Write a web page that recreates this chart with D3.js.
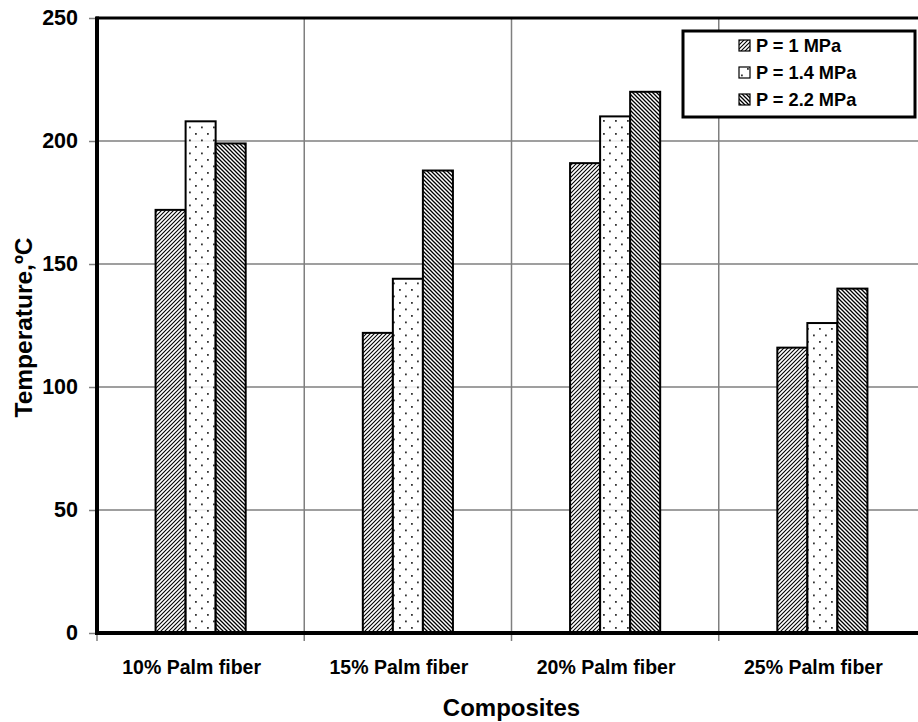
<!DOCTYPE html>
<html>
<head>
<meta charset="utf-8">
<script src="https://cdn.jsdelivr.net/npm/d3@7"></script>
<style>
  html, body { margin: 0; padding: 0; background: #fff; }
  svg { display: block; font-family: "Liberation Sans", Arial, sans-serif; font-weight: bold; }
</style>
</head>
<body>
<svg id="chart" width="918" height="722"></svg>
<script>
// Softening temperature of palm-fibre composites at three moulding pressures
const categories = ["10% Palm fiber", "15% Palm fiber", "20% Palm fiber", "25% Palm fiber"];
const seriesNames = ["P = 1 MPa", "P = 1.4 MPa", "P = 2.2 MPa"];
const p1 = [172, 122, 191, 116];
const p14 = [208, 144, 210, 126];
const p22 = [199, 188, 220, 140];
const yTicks = [0, 50, 100, 150, 200, 250];

const seriesValues = [p1, p14, p22];
const patternIds = ["hatchUp", "dots", "hatchDown"];

const svg = d3.select("#chart");
const margin = { left: 97, top: 18, right: -8, bottom: 89 };
const W = 918, H = 722;
const FONT = "Liberation Sans, Arial, sans-serif";

const x = d3.scaleBand().domain(categories).range([margin.left, W - margin.right]).padding(0);
const xs = d3.scaleBand().domain(seriesNames).range([0, x.bandwidth()]).paddingInner(0).paddingOuter(1.95);
const y = d3.scaleLinear().domain([0, 250]).range([H - margin.bottom, margin.top]);

// fill patterns
const defs = svg.append("defs");
const up = defs.append("pattern").attr("id", "hatchUp").attr("patternUnits", "userSpaceOnUse")
  .attr("width", 4).attr("height", 4);
up.append("rect").attr("width", 4).attr("height", 4).attr("fill", "#fff").attr("fill-opacity", 0.85);
up.append("path").attr("d", "M-1,1 l2,-2 M0,4 l4,-4 M3,5 l2,-2").attr("stroke", "#000").attr("stroke-width", 1.1);

const dn = defs.append("pattern").attr("id", "hatchDown").attr("patternUnits", "userSpaceOnUse")
  .attr("width", 4).attr("height", 4);
dn.append("rect").attr("width", 4).attr("height", 4).attr("fill", "#fff").attr("fill-opacity", 0.85);
dn.append("path").attr("d", "M-1,3 l2,2 M0,0 l4,4 M3,-1 l2,2").attr("stroke", "#000").attr("stroke-width", 1.3);

const dt = defs.append("pattern").attr("id", "dots").attr("patternUnits", "userSpaceOnUse")
  .attr("width", 12).attr("height", 13);
dt.append("rect").attr("width", 12).attr("height", 13).attr("fill", "#fff").attr("fill-opacity", 0.85);
dt.append("rect").attr("x", 3).attr("y", 3).attr("width", 1.8).attr("height", 1.8).attr("fill", "#333");
dt.append("rect").attr("x", 9).attr("y", 9.5).attr("width", 1.8).attr("height", 1.8).attr("fill", "#333");

// gridlines
const grid = svg.append("g");
grid.selectAll("line.h").data(yTicks.filter(d => d > 0 && d < 250)).join("line")
  .attr("x1", margin.left).attr("x2", W).attr("y1", d => y(d)).attr("y2", d => y(d))
  .attr("stroke", "#7f7f7f").attr("stroke-width", 1.5);
grid.selectAll("line.v").data(categories.slice(1)).join("line")
  .attr("x1", d => x(d)).attr("x2", d => x(d)).attr("y1", y(250)).attr("y2", y(0) + 8)
  .attr("stroke", "#7f7f7f").attr("stroke-width", 1.5);

// bars
seriesNames.forEach((s, si) => {
  svg.append("g").selectAll("rect").data(categories).join("rect")
    .attr("x", c => x(c) + xs(s))
    .attr("y", (c, i) => y(seriesValues[si][i]))
    .attr("width", xs.bandwidth())
    .attr("height", (c, i) => y(0) - y(seriesValues[si][i]))
    .attr("fill", `url(#${patternIds[si]})`)
    .attr("stroke", "#000").attr("stroke-width", 2);
});

// y axis ticks and labels
const yAxis = svg.append("g").attr("transform", `translate(${margin.left},0)`)
  .call(d3.axisLeft(y).tickValues(yTicks).tickSize(8).tickPadding(11));
yAxis.select(".domain").remove();
yAxis.selectAll(".tick line").attr("stroke", "#7f7f7f").attr("stroke-width", 1.5);
yAxis.selectAll(".tick text").attr("font-size", 21.5).attr("font-weight", "bold")
  .attr("font-family", FONT).attr("fill", "#000");

// x axis labels (set slightly left of the category centre)
const xAxis = svg.append("g").attr("transform", `translate(0,${y(0)})`)
  .call(d3.axisBottom(x).tickSize(0).tickPadding(27));
xAxis.select(".domain").remove();
xAxis.selectAll(".tick text").attr("font-size", 19.5).attr("font-weight", "bold")
  .attr("font-family", FONT).attr("fill", "#000").attr("dx", -9);
svg.append("line").attr("x1", margin.left).attr("x2", margin.left).attr("y1", y(0)).attr("y2", y(0) + 8)
  .attr("stroke", "#7f7f7f").attr("stroke-width", 1.5);

// frame
svg.append("line").attr("x1", margin.left - 1).attr("x2", W).attr("y1", y(250)).attr("y2", y(250))
  .attr("stroke", "#000").attr("stroke-width", 3);
svg.append("line").attr("x1", margin.left).attr("x2", W).attr("y1", y(0)).attr("y2", y(0))
  .attr("stroke", "#000").attr("stroke-width", 4);
svg.append("line").attr("x1", margin.left).attr("x2", margin.left).attr("y1", y(250) - 1.5).attr("y2", y(0) + 2)
  .attr("stroke", "#000").attr("stroke-width", 4);

// axis titles
svg.append("text").attr("x", (margin.left + W - margin.right) / 2).attr("y", 716)
  .attr("text-anchor", "middle").attr("font-size", 24).text("Composites");
svg.append("text").attr("transform", `translate(32,${(y(0) + y(250)) / 2 + 2}) rotate(-90)`)
  .attr("text-anchor", "middle").attr("font-size", 24.5).text("Temperature,ºC");

// legend
const lg = svg.append("g");
lg.append("rect").attr("x", 683).attr("y", 31).attr("width", 232).attr("height", 86)
  .attr("fill", "#fff").attr("stroke", "#000").attr("stroke-width", 3);
seriesNames.forEach((s, i) => {
  const base = 52 + i * 27;
  lg.append("rect").attr("x", 739).attr("y", base - 12).attr("width", 11).attr("height", 11)
    .attr("fill", `url(#${patternIds[i]})`).attr("stroke", "#000").attr("stroke-width", 1.2);
  lg.append("text").attr("x", 756).attr("y", base).attr("font-size", 18.2).text(s);
});
</script>
</body>
</html>
